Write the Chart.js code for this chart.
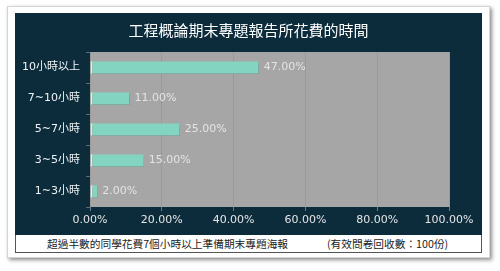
<!DOCTYPE html>
<html>
<head>
<meta charset="utf-8">
<script src="https://cdn.jsdelivr.net/npm/chart.js@4"></script>
<style>
  html, body { margin:0; padding:0; background:#fff; width:500px; height:271px; overflow:hidden; }
  #card { position:absolute; left:7px; top:6px; width:481px; height:250px; background:#fff;
          border:1px solid #d4d4d4; box-shadow:2px 2px 4px rgba(0,0,0,0.45); }
  #panel { position:absolute; left:15px; top:13px; width:467px; height:222px; background:#0c2c3c; }
  #caption { position:absolute; left:15px; top:235px; width:465px; height:17px; background:#fff;
             border:1px solid #555; border-top:none;
             font-family:'Noto Sans CJK TC', sans-serif; font-size:10.7px; color:#222; }
  #caption span { position:absolute; top:1px; white-space:nowrap; }
</style>
</head>
<body>
<div id="card"></div>
<div id="panel"><canvas id="c" width="467" height="222"></canvas></div>
<div id="caption">
  <span style="left:31px">超過半數的同學花費7個小時以上準備期末專題海報</span>
  <span style="left:311px">(有效問卷回收數：100份)</span>
</div>
<script>
const categories = ['10小時以上', '7~10小時', '5~7小時', '3~5小時', '1~3小時'];
const percents = [47, 11, 25, 15, 2];
const xTicks = [0, 20, 40, 60, 80, 100];
const chartTitle = '工程概論期末專題報告所花費的時間';

const FONT = "'DejaVu Sans', 'Noto Sans CJK TC', sans-serif";

const plotBg = {
  id: 'plotBg',
  beforeDraw(chart) {
    const {ctx, chartArea: a, width} = chart;
    ctx.save();
    ctx.fillStyle = '#a6a6a6';
    ctx.fillRect(a.left, a.top, a.right - a.left, a.bottom - a.top);
    // title, centred on the whole panel
    ctx.fillStyle = '#ffffff';
    ctx.font = "15px 'Noto Sans CJK TC', sans-serif";
    ctx.textAlign = 'center';
    ctx.textBaseline = 'middle';
    ctx.fillText(chartTitle, width / 2, 17);
    ctx.restore();
  },
  beforeDatasetsDraw(chart) {
    const ctx = chart.ctx;
    ctx.save();
    ctx.shadowColor = 'rgba(0,0,0,0.35)';
    ctx.shadowOffsetX = 1;
    ctx.shadowOffsetY = 1.5;
    ctx.shadowBlur = 1;
  },
  afterDatasetsDraw(chart) {
    const ctx = chart.ctx;
    ctx.restore();
    const meta = chart.getDatasetMeta(0);
    ctx.save();
    ctx.fillStyle = '#e4e4e4';
    ctx.font = '11px ' + FONT;
    ctx.textBaseline = 'middle';
    meta.data.forEach((bar, i) => {
      ctx.fillText(percents[i].toFixed(2) + '%', bar.x + 5, bar.y);
    });
    ctx.restore();
  }
};

new Chart(document.getElementById('c'), {
  type: 'bar',
  data: {
    labels: categories,
    datasets: [{
      data: percents,
      backgroundColor: '#83d5c1',
      borderColor: '#d2f4ea',
      borderWidth: {left: 2, top: 0, right: 0, bottom: 0},
      borderSkipped: false,
      categoryPercentage: 1,
      barPercentage: 0.4
    }]
  },
  options: {
    indexAxis: 'y',
    responsive: false,
    animation: false,
    layout: {padding: {left: 0, right: 33, top: 39, bottom: 0}},
    plugins: {
      legend: {display: false},
      tooltip: {enabled: false},
      title: {display: false}
    },
    scales: {
      x: {
        min: 0,
        max: 100,
        afterBuildTicks(scale) { scale.ticks = xTicks.map(v => ({value: v})); },
        ticks: {
          color: '#e6e6e6',
          font: {family: FONT, size: 11},
          padding: 3,
          maxRotation: 0,
          callback: v => v.toFixed(2) + '%'
        },
        grid: {color: '#999999', tickColor: '#6b7c85', tickLength: 4},
        border: {display: false},
        afterFit(scale) { scale.height = 28; }
      },
      y: {
        ticks: {
          color: '#eef3f5',
          font: {family: FONT, size: 11},
          padding: 6
        },
        grid: {drawOnChartArea: false, color: '#5a6f7a', tickLength: 4},
        border: {display: false},
        afterFit(scale) { scale.width = 75; }
      }
    }
  },
  plugins: [plotBg]
});
</script>
</body>
</html>
